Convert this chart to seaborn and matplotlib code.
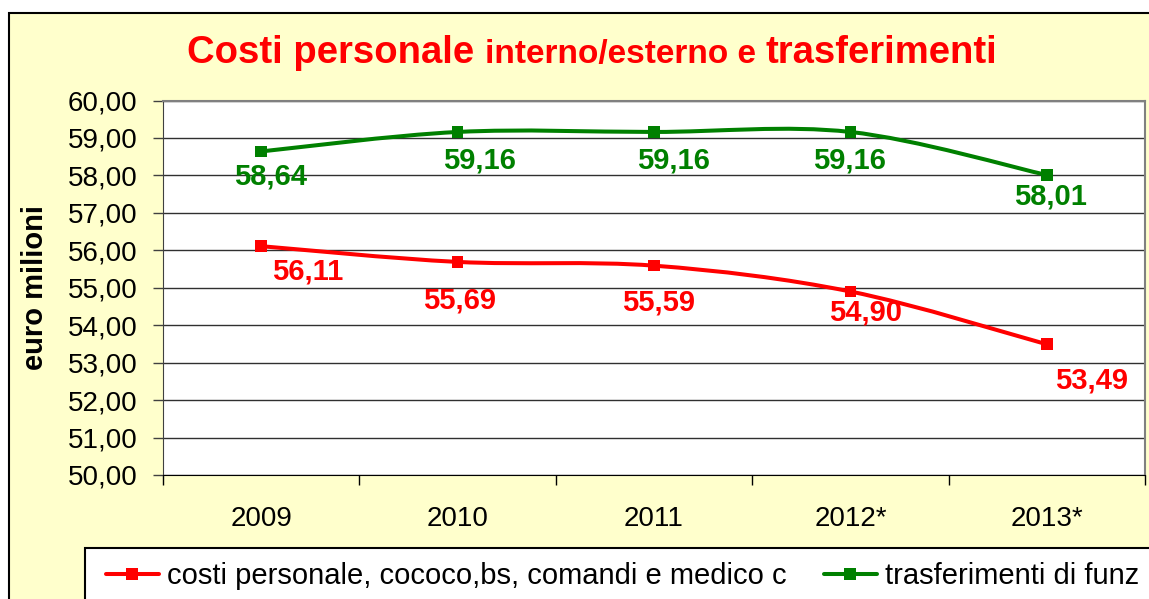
import numpy as np
import pandas as pd
import matplotlib
matplotlib.use("Agg")
import matplotlib.pyplot as plt
import seaborn as sns
from matplotlib.path import Path
from matplotlib.patches import PathPatch, Rectangle
from matplotlib.lines import Line2D
from matplotlib.ticker import FuncFormatter

# data
anni = ["2009", "2010", "2011", "2012*", "2013*"]
costi_personale = [56.11, 55.69, 55.59, 54.90, 53.49]
trasferimenti = [58.64, 59.16, 59.16, 59.16, 58.01]
serie_nomi = ["costi personale, cococo,bs, comandi e medico c", "trasferimenti di funz"]
colori = ["#FF0000", "#008000"]

# hand placed value labels in the original: (dx centre, dy top) in pixels
off_costi = [(46, 17), (2, 31), (5, 29), (15, 13), (45, 28)]
off_trasf = [(9, 17), (22, 21), (19, 21), (-1, 21), (4, 13)]

W, H = 1149, 599

sns.set_style("white")
plt.rcParams["font.family"] = ["Liberation Sans", "DejaVu Sans"]
for k in ["text.color", "axes.labelcolor", "xtick.color", "ytick.color"]:
    plt.rcParams[k] = "black"

df = pd.DataFrame({
    "pos": list(range(len(anni))) * 2,
    "valore": costi_personale + trasferimenti,
    "serie": [serie_nomi[0]] * len(anni) + [serie_nomi[1]] * len(anni),
})


def fx(px):
    return px / W


def fy(py):
    return 1 - py / H


def smooth_path(xs, ys):
    # excel-like smoothed line (bezier through the points)
    pts = np.column_stack([xs, ys]).astype(float)
    ext = np.vstack([pts[0], pts, pts[-1]])
    verts = [pts[0]]
    codes = [Path.MOVETO]
    for i in range(len(pts) - 1):
        p0, p1, p2, p3 = ext[i], ext[i + 1], ext[i + 2], ext[i + 3]
        verts += [p1 + (p2 - p0) / 6, p2 - (p3 - p1) / 6, p2]
        codes += [Path.CURVE4] * 3
    return Path(verts, codes)


fig = plt.figure(figsize=(W / 100, H / 100), dpi=100, facecolor="white")

# yellow chart area
fig.patches.append(Rectangle((fx(9), -0.1), 1.2, fy(12.5) + 0.1, transform=fig.transFigure,
                             facecolor="#FFFFCC", edgecolor="black", linewidth=1.5, zorder=-10))

ax = fig.add_axes([fx(163), fy(475), fx(1145) - fx(163), fy(100.5) - fy(475)])
ax.set_facecolor("white")

for nome, col in zip(serie_nomi, colori):
    sub = df[df["serie"] == nome]
    ax.add_patch(PathPatch(smooth_path(sub["pos"], sub["valore"]), fill=False,
                           edgecolor=col, linewidth=2.9, zorder=3, capstyle="round"))

sns.scatterplot(data=df, x="pos", y="valore", hue="serie", palette=dict(zip(serie_nomi, colori)),
                marker="s", s=70, linewidth=0, legend=False, zorder=4, ax=ax)

# value labels
for vals, offs, col in [(costi_personale, off_costi, colori[0]), (trasferimenti, off_trasf, colori[1])]:
    for i, (v, (dx, dy)) in enumerate(zip(vals, offs)):
        ax.annotate(f"{v:.2f}".replace(".", ","), (i, v), xytext=(dx * 0.72, -(dy - 6) * 0.72),
                    textcoords="offset points", ha="center", va="top",
                    fontsize=21, fontweight="bold", color=col, zorder=5)

ax.set_xlim(-0.5, len(anni) - 0.5)
ax.set_ylim(50, 60)
ax.set_yticks(np.arange(50, 61, 1))
ax.yaxis.set_major_formatter(FuncFormatter(lambda v, p: f"{v:.2f}".replace(".", ",")))
ax.tick_params(axis="y", direction="out", length=7.2, width=1, color="#404040",
               labelsize=20, pad=11, left=True)
ax.grid(axis="y", color="#303030", linewidth=1)
ax.set_axisbelow(True)

ax.set_xticks(np.arange(-0.5, len(anni), 1))
ax.set_xticklabels([])
ax.set_xticks(range(len(anni)), minor=True)
ax.set_xticklabels(anni, minor=True)
ax.tick_params(axis="x", which="major", direction="out", length=7.2, width=1, color="black", bottom=True)
ax.tick_params(axis="x", which="minor", length=0, labelsize=20, pad=22)
ax.set_xlabel("")
ax.set_ylabel("")

for s in ["top", "right"]:
    ax.spines[s].set_color("#808080")
    ax.spines[s].set_linewidth(1.5)
ax.spines["left"].set_color("#404040")
ax.spines["bottom"].set_color("black")
for s in ax.spines.values():
    s.set_visible(True)

fig.text(fx(35), fy(287.5), "euro milioni", rotation=90, ha="center", va="center",
         fontsize=21, fontweight="bold")

# title with mixed sizes
renderer = fig.canvas.get_renderer()
x = fx(187)
for testo, size in [("Costi personale", 27.5), ("interno/esterno e", 24), ("trasferimenti", 27.5)]:
    t = fig.text(x, fy(63), testo, fontsize=size, fontweight="bold", color="#FF0000",
                 ha="left", va="baseline")
    bb = t.get_window_extent(renderer)
    spw = size * 0.278 * 100 / 72
    x += (bb.width + spw) / W

# legend box (runs past the image edge like the original)
fig.patches.append(Rectangle((fx(85), -0.1), 1.2, fy(548) + 0.1, transform=fig.transFigure,
                             facecolor="white", edgecolor="black", linewidth=1.5, zorder=1))
handles = [Line2D([], [], color=c, linewidth=2.9, marker="s", markersize=8, markeredgewidth=0)
           for c in colori]
fig.legend(handles, serie_nomi, loc="center left", bbox_to_anchor=(fx(106), fy(576)),
           frameon=False, ncol=2, fontsize=21, handlelength=1.8, handletextpad=0.28,
           columnspacing=1.3, borderpad=0, borderaxespad=0)

fig.savefig("out.png", dpi=100)
